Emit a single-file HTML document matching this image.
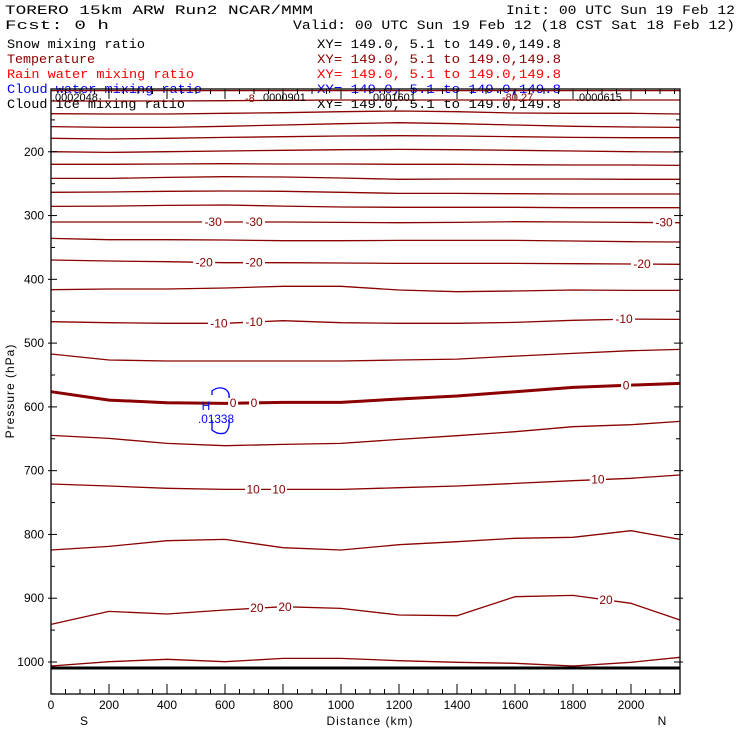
<!DOCTYPE html>
<html><head><meta charset="utf-8"><style>
html,body{margin:0;padding:0;background:#fff;}
svg{display:block;}
text{font-family:"Liberation Mono","DejaVu Sans Mono",monospace;}
.sans{font-family:"Liberation Sans","DejaVu Sans",sans-serif;}
</style></head><body>
<svg id="chart" width="740" height="740" viewBox="0 0 740 740" xmlns="http://www.w3.org/2000/svg">
<g font-size="13">
<text x="5" y="14" textLength="308" lengthAdjust="spacingAndGlyphs">TORERO  15km ARW   Run2    NCAR/MMM</text>
<text x="506" y="14" textLength="229" lengthAdjust="spacingAndGlyphs">Init: 00 UTC Sun 19 Feb 12</text>
<text x="5" y="29" textLength="104" lengthAdjust="spacingAndGlyphs">Fcst:    0 h</text>
<text x="293" y="29" textLength="442" lengthAdjust="spacingAndGlyphs">Valid: 00 UTC Sun 19 Feb 12 (18 CST Sat 18 Feb 12)</text>
</g>
<g font-size="13">
<text x="7" y="48" fill="#000" textLength="138" lengthAdjust="spacingAndGlyphs">Snow mixing ratio</text>
<text x="317" y="48" fill="#000" textLength="244" lengthAdjust="spacingAndGlyphs">XY= 149.0,  5.1 to 149.0,149.8</text>
<text x="7" y="63" fill="#8b0000" textLength="88" lengthAdjust="spacingAndGlyphs">Temperature</text>
<text x="317" y="63" fill="#8b0000" textLength="244" lengthAdjust="spacingAndGlyphs">XY= 149.0,  5.1 to 149.0,149.8</text>
<text x="7" y="78" fill="#ff0000" textLength="187" lengthAdjust="spacingAndGlyphs">Rain water mixing ratio</text>
<text x="317" y="78" fill="#ff0000" textLength="244" lengthAdjust="spacingAndGlyphs">XY= 149.0,  5.1 to 149.0,149.8</text>
<text x="7" y="93" fill="#0000ff" textLength="195" lengthAdjust="spacingAndGlyphs">Cloud water mixing ratio</text>
<text x="317" y="93" fill="#0000ff" textLength="244" lengthAdjust="spacingAndGlyphs">XY= 149.0,  5.1 to 149.0,149.8</text>
<text x="7" y="108" fill="#000" textLength="178" lengthAdjust="spacingAndGlyphs">Cloud ice mixing ratio</text>
<text x="317" y="108" fill="#000" textLength="244" lengthAdjust="spacingAndGlyphs">XY= 149.0,  5.1 to 149.0,149.8</text>
</g>
<g id="plot"></g>
</svg>
<script>
const distKm = [0,200,400,600,800,1000,1200,1400,1600,1800,2000,2169];
// pressure (hPa) of each temperature isotherm at the distances above
const isoPressures = [
 [104,104,104,104,104,104,104,104,104,104,104,104],
 [120.4,120.4,120.4,119.9,119.3,118.8,118.8,118.8,118.8,118.8,118.8,118.8],
 [140.3,140.8,140.8,139.7,138.7,137.1,136.1,137.1,139.2,139.7,139.7,140.8],
 [160.6,161.7,161.7,160.1,158.0,155.9,154.4,155.9,158.0,160.1,161.2,161.7],
 [178.9,180.0,178.9,177.4,176.3,175.3,174.8,175.3,176.3,177.4,177.9,177.9],
 [199.8,200.9,199.8,198.8,197.7,196.7,196.2,196.7,197.7,198.8,199.8,200.4],
 [219.7,219.7,219.2,218.7,219.2,219.2,219.7,219.7,220.2,220.8,220.8,221.3],
 [241.7,241.7,240.1,239.0,239.6,241.1,243.2,242.7,242.7,242.7,243.2,243.2],
 [263.6,263.1,262.0,261.5,262.0,263.6,265.2,265.2,265.7,266.2,266.2,266.2],
 [285.6,285.1,284.0,283.5,285.1,286.6,287.1,287.1,287.1,287.7,287.7,287.7],
 [310.1,310.1,310.1,310.1,310.1,310.7,311.2,310.7,309.6,310.1,310.7,311.2],
 [335.8,337.8,337.8,338.4,339.4,339.4,338.9,338.9,338.9,339.9,341.0,341.5],
 [369.7,371.3,372.3,373.9,373.9,374.4,375.0,375.0,375.0,375.5,376.0,376.5],
 [416.3,415.2,415.2,413.6,411.0,411.0,416.8,419.4,418.3,416.8,417.3,417.3],
 [466.4,468.0,469.0,469.0,464.9,468.0,469.0,469.0,467.5,464.3,462.3,462.8],
 [517.1,526.5,528.1,528.1,528.1,528.1,526.5,525.0,520.3,516.1,511.9,509.8],
 [576.2,589.3,593.5,594.5,592.9,592.9,587.7,583.0,576.2,569.4,565.8,563.1],
 [644.7,649.4,657.2,660.9,658.8,657.2,650.9,645.2,638.9,631.1,627.9,622.7],
 [720.9,724.1,727.7,729.3,729.3,729.3,726.7,724.1,719.9,715.7,712.0,706.8],
 [824.4,818.7,809.8,807.7,820.8,824.4,816.1,811.3,806.1,804.5,794.1,807.7],
 [941.0,920.6,924.8,918.5,913.3,915.9,926.3,927.4,897.6,895.5,908.0,934.2],
 [1006.3,999.5,995.8,999.5,994.3,994.3,997.9,1000.5,1002.1,1006.3,1000.5,992.7]
];
const isoBold = [16];
// contour labels: [isotherm index, distance km, text]
const labelLine = [10,10,10,12,12,12,14,14,14,16,16,16,18,18,18,20,20,20];
const labelKm   = [559,700,2114,528,700,2038,579,700,1976,628,700,1983,697,786,1886,710,807,1914];
const labelText = ["-30","-30","-30","-20","-20","-20","-10","-10","-10","0","0","0","10","10","10","20","20","20"];
const pTicks = [200,300,400,500,600,700,800,900,1000];
const xTicks = [0,200,400,600,800,1000,1200,1400,1600,1800,2000];
const groundP = 1009.5;

const L=51,R=680,T=89,B=694;
const xs = km => L + km*(631-51)/2000;
const ys = p => 88 + (p-100)*(662-88)/900;
const NS="http://www.w3.org/2000/svg";
const plot=document.getElementById('plot');
function mk(tag,attrs,parent){const e=document.createElementNS(NS,tag);for(const k in attrs)e.setAttribute(k,attrs[k]);(parent||plot).appendChild(e);return e;}

const lines=mk('g',{});


isoPressures.forEach((arr,i)=>{
  const d=arr.map((p,j)=>(j?'L':'M')+xs(distKm[j]).toFixed(1)+','+ys(p).toFixed(1)).join(' ');
  const pa=mk('path',{d:d,fill:'none',stroke:'#8b0000','stroke-width':isoBold.includes(i)?3:1.3,'stroke-linejoin':'round'},lines);
  
  
});
function interp(arr,km){for(let j=0;j<distKm.length-1;j++){if(km<=distKm[j+1]){const t=(km-distKm[j])/(distKm[j+1]-distKm[j]);return arr[j]+t*(arr[j+1]-arr[j]);}}return arr[arr.length-1];}
labelText.forEach((t,i)=>{
  const x=xs(labelKm[i]),y=ys(interp(isoPressures[labelLine[i]],labelKm[i]));
  const w=t.length*6+4;
  const r=mk('rect',{x:x-w/2,y:y-6,width:w,height:12,fill:'#fff'});
  
  
  const tx=mk('text',{x:x,y:y+4,'text-anchor':'middle','font-size':12,fill:'#8b0000',class:'sans'});
  
  
  tx.textContent=t;
});
// ground
const g=mk('line',{x1:L,x2:R,y1:ys(groundP),y2:ys(groundP),stroke:'#000','stroke-width':3});



// cloud water blob
const blob=mk('g',{});


const bp=mk('path',{d:'M212,395 L212,391 Q218,386 225,389 Q230,392 229,398 M212,420 L212,430 Q218,435 225,433 Q230,429 229,420',fill:'none',stroke:'#0000ff','stroke-width':1.3},blob);


const bh=mk('text',{x:206,y:410,'text-anchor':'middle','font-size':12,fill:'#0000ff',class:'sans'},blob);


bh.textContent='H';
const bv=mk('text',{x:216,y:423,'text-anchor':'middle','font-size':12,fill:'#0000ff',class:'sans',textLength:36,lengthAdjust:'spacingAndGlyphs'},blob);


bv.textContent='.01338';

// top noise labels
const topLab=[[52,101,'.0002048','#000'],[245,102,'-8','#8b0000'],[260,101,'.0000901','#000'],[370,101,'.0001601','#000'],[502,101,'-80.27','#8b0000'],[576,101,'.0000615','#000']];
topLab.forEach(a=>{const t=mk('text',{x:a[0],y:a[1],'font-size':11,fill:a[3],class:'sans'});
  
  
  t.textContent=a[2];});

// frame
const fr=mk('rect',{x:L,y:T,width:R-L,height:B-T,fill:'none',stroke:'#000','stroke-width':1.3});


// y ticks
const yax=mk('g',{});


for(let p=150;p<=1050;p+=50){
  const y=ys(p),major=p%100===0,len=major?6:4;
  mk('line',{x1:L-(major?3:0),x2:L+len,y1:y,y2:y,stroke:'#000'},yax);
  mk('line',{x1:R-len,x2:R+(major?3:0),y1:y,y2:y,stroke:'#000'},yax);
}
pTicks.forEach(p=>{const t=mk('text',{x:L-7,y:ys(p)+4,'text-anchor':'end','font-size':12,class:'sans'},yax);
  
  
  t.textContent=p;});
const yt=mk('text',{x:14,y:391,'text-anchor':'middle','font-size':12,class:'sans','letter-spacing':1,transform:'rotate(-90 14 391)'},yax);


yt.textContent='Pressure (hPa)';
// x ticks
const xax=mk('g',{});


for(let k=50;k<2169;k+=50){
  const x=xs(k),major=k%200===0,len=major?10:5;
  mk('line',{x1:x,x2:x,y1:B,y2:B-len,stroke:'#000'},xax);
  mk('line',{x1:x,x2:x,y1:T,y2:T+len,stroke:'#000'},xax);
}
xTicks.forEach(k=>{const t=mk('text',{x:xs(k),y:709,'text-anchor':'middle','font-size':12,class:'sans'},xax);
  
  
  t.textContent=k;});
const xt=mk('text',{x:370,y:725,'text-anchor':'middle','font-size':12,class:'sans','letter-spacing':1},xax);


xt.textContent='Distance (km)';
const sL=mk('text',{x:84,y:725,'text-anchor':'middle','font-size':12,class:'sans'},xax);


sL.textContent='S';
const nL=mk('text',{x:662,y:725,'text-anchor':'middle','font-size':12,class:'sans'},xax);


nL.textContent='N';
</script>
</body></html>
